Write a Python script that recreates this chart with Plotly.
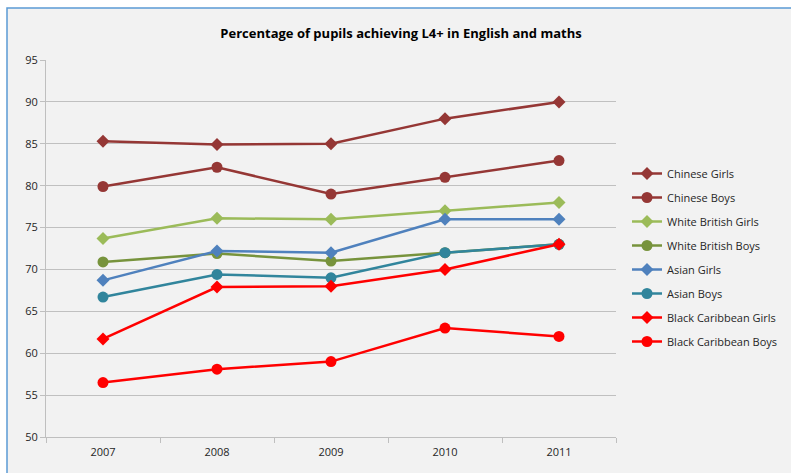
import plotly.graph_objects as go

years = ["2007", "2008", "2009", "2010", "2011"]
chinese_girls = [85.3, 84.9, 85.0, 88.0, 90.0]
chinese_boys = [79.9, 82.2, 79.0, 81.0, 83.0]
white_british_girls = [73.7, 76.1, 76.0, 77.0, 78.0]
white_british_boys = [70.9, 71.9, 71.0, 72.0, 73.0]
asian_girls = [68.7, 72.2, 72.0, 76.0, 76.0]
asian_boys = [66.7, 69.4, 69.0, 72.0, 73.0]
black_caribbean_girls = [61.7, 67.9, 68.0, 70.0, 73.0]
black_caribbean_boys = [56.5, 58.1, 59.0, 63.0, 62.0]

series = [
    ("Chinese Girls", chinese_girls, "#953735", "diamond"),
    ("Chinese Boys", chinese_boys, "#953735", "circle"),
    ("White British Girls", white_british_girls, "#9BBB59", "diamond"),
    ("White British Boys", white_british_boys, "#77933C", "circle"),
    ("Asian Girls", asian_girls, "#4F81BD", "diamond"),
    ("Asian Boys", asian_boys, "#31859C", "circle"),
    ("Black Caribbean Girls", black_caribbean_girls, "#FF0000", "diamond"),
    ("Black Caribbean Boys", black_caribbean_boys, "#FF0000", "circle"),
]

fig = go.Figure()
for name, vals, color, sym in series:
    fig.add_trace(go.Scatter(
        x=years, y=vals, name=name, mode="lines+markers",
        legendgroup=name,
        line=dict(color=color, width=2.5),
        marker=dict(symbol=sym, size=10 if sym == "diamond" else 11, color=color),
    ))

W, H = 791, 473
ml, mr, mt, mb = 46, 175, 60, 36
pw, ph = W - ml - mr, H - mt - mb

fig.update_layout(
    width=W, height=H,
    margin=dict(l=ml, r=mr, t=mt, b=mb, autoexpand=False),
    paper_bgcolor="#FFFFFF", plot_bgcolor="#F2F2F2",
    font=dict(family="Open Sans", size=11, color="#262626"),
    title=dict(text="<b>Percentage of pupils achieving L4+ in English and maths</b>",
               x=0.507, xref="container", xanchor="center",
               y=1 - 33 / H, yref="container", yanchor="middle",
               font=dict(size=13, color="#000000")),
    showlegend=True,
    legend=dict(xref="container", yref="container",
                x=(W - 8) / W, xanchor="right", y=1 - 257.5 / H, yanchor="middle",
                font=dict(size=11, color="#262626"), tracegroupgap=5,
                bgcolor="rgba(0,0,0,0)", itemwidth=30),
    xaxis=dict(type="category", range=[-0.5, 4.5], showgrid=False, showline=True,
               linecolor="#BFBFBF", linewidth=1, ticks="outside", tickson="boundaries",
               ticklen=5, tickcolor="#BFBFBF", tickfont=dict(size=11),
               ticklabelstandoff=5, fixedrange=True),
    yaxis=dict(range=[50, 95], dtick=5, showgrid=True, gridcolor="#C0C0C0", gridwidth=1,
               showline=True, linecolor="#BFBFBF", ticks="outside", ticklen=5,
               tickcolor="#BFBFBF", zeroline=False, tickfont=dict(size=11),
               fixedrange=True),
)

# chart-area background with its blue frame (top and left edges visible)
fig.add_shape(type="rect", xref="paper", yref="paper",
              x0=(7 - ml) / pw, x1=2.0,
              y0=-1.0, y1=1 + (mt - 8) / ph,
              line=dict(color="#5B9BD5", width=1.5), fillcolor="#F2F2F2", layer="below")

fig.write_html("out.html", config={"displayModeBar": False},
               post_script="document.body.style.margin='0';")
